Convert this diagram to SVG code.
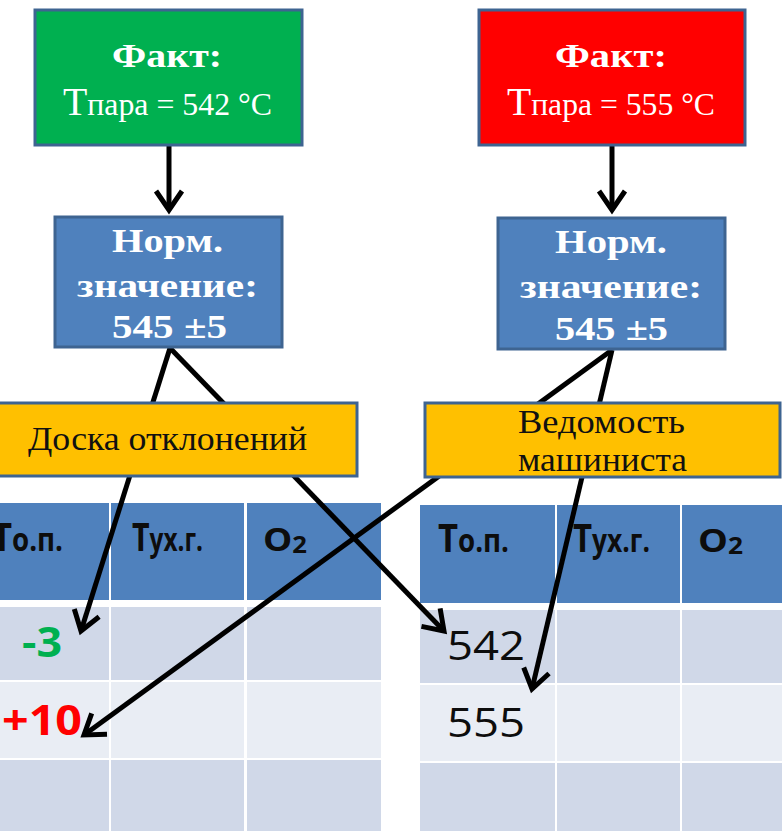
<svg xmlns="http://www.w3.org/2000/svg" width="782" height="831" viewBox="0 0 782 831">
  <style>
    .box { stroke: #3E6491; stroke-width: 3; }
    .serif { font-family: "Liberation Serif", "Times New Roman", serif; }
    .wb { fill: #ffffff; font-weight: bold; font-size: 34px; }
    .wr { fill: #ffffff; }
    .yt { fill: #111111; font-size: 33px; }
    .hdr { fill: #4F81BD; }
    .r1 { fill: #D0D8E8; }
    .r2 { fill: #E9EDF4; }
    .sans { font-family: "Open Sans", "Liberation Sans", Arial, sans-serif; }
    .ht { fill: #0d0d0d; font-weight: bold; }
    .conn { stroke: #000000; stroke-width: 5; fill: none; }
  </style>
  <defs>
    <marker id="arr" markerUnits="userSpaceOnUse" markerWidth="40" markerHeight="40" refX="0" refY="0" orient="auto" overflow="visible">
      <path d="M-19,-13 L0,0 L-19,13" fill="none" stroke="#000000" stroke-width="5" stroke-linejoin="miter"/>
    </marker>
  </defs>
  <rect width="782" height="831" fill="#ffffff"/>

  <!-- Left table -->
  <g id="table-left">
    <rect x="-26" y="503" width="135" height="97" class="hdr"/>
    <rect x="111" y="503" width="133" height="97" class="hdr"/>
    <rect x="247" y="503" width="134" height="97" class="hdr"/>
    <rect x="-26" y="607" width="135" height="73" class="r1"/>
    <rect x="111" y="607" width="133" height="73" class="r1"/>
    <rect x="247" y="607" width="134" height="73" class="r1"/>
    <rect x="-26" y="682" width="135" height="76" class="r2"/>
    <rect x="111" y="682" width="133" height="76" class="r2"/>
    <rect x="247" y="682" width="134" height="76" class="r2"/>
    <rect x="-26" y="760" width="135" height="75" class="r1"/>
    <rect x="111" y="760" width="133" height="75" class="r1"/>
    <rect x="247" y="760" width="134" height="75" class="r1"/>
    <text class="sans ht" x="-8" y="551" textLength="71" lengthAdjust="spacingAndGlyphs"><tspan font-size="40">Т</tspan><tspan font-size="32">о.п.</tspan></text>
    <text class="sans ht" x="132" y="551" textLength="71" lengthAdjust="spacingAndGlyphs"><tspan font-size="40">Т</tspan><tspan font-size="32">ух.г.</tspan></text>
    <text class="sans ht" x="263" y="551" textLength="44" lengthAdjust="spacingAndGlyphs"><tspan font-size="33">O</tspan><tspan font-size="23" dy="2">2</tspan></text>
    <text class="sans" x="42" y="657" text-anchor="middle" font-size="42" font-weight="bold" fill="#00B050" textLength="40" lengthAdjust="spacingAndGlyphs">-3</text>
    <text class="sans" x="42" y="735" text-anchor="middle" font-size="42" font-weight="bold" fill="#FF0000" textLength="80" lengthAdjust="spacingAndGlyphs">+10</text>
  </g>

  <!-- Right table -->
  <g id="table-right">
    <rect x="420" y="505" width="135" height="98" class="hdr"/>
    <rect x="557" y="505" width="123" height="98" class="hdr"/>
    <rect x="682" y="505" width="102" height="98" class="hdr"/>
    <rect x="420" y="610" width="135" height="73" class="r1"/>
    <rect x="557" y="610" width="123" height="73" class="r1"/>
    <rect x="682" y="610" width="102" height="73" class="r1"/>
    <rect x="420" y="685" width="135" height="76" class="r2"/>
    <rect x="557" y="685" width="123" height="76" class="r2"/>
    <rect x="682" y="685" width="102" height="76" class="r2"/>
    <rect x="420" y="763" width="135" height="72" class="r1"/>
    <rect x="557" y="763" width="123" height="72" class="r1"/>
    <rect x="682" y="763" width="102" height="72" class="r1"/>
    <text class="sans ht" x="438" y="552" textLength="71" lengthAdjust="spacingAndGlyphs"><tspan font-size="40">Т</tspan><tspan font-size="32">о.п.</tspan></text>
    <text class="sans ht" x="573" y="552" textLength="77" lengthAdjust="spacingAndGlyphs"><tspan font-size="40">Т</tspan><tspan font-size="32">ух.г.</tspan></text>
    <text class="sans ht" x="698" y="552" textLength="45" lengthAdjust="spacingAndGlyphs"><tspan font-size="33">O</tspan><tspan font-size="23" dy="2">2</tspan></text>
    <text class="sans" x="486" y="660" text-anchor="middle" font-size="40" fill="#0d0d0d" textLength="78" lengthAdjust="spacingAndGlyphs">542</text>
    <text class="sans" x="486" y="737" text-anchor="middle" font-size="40" fill="#0d0d0d" textLength="78" lengthAdjust="spacingAndGlyphs">555</text>
  </g>

  <!-- Connectors -->
  <g id="connectors">
    <line class="conn" x1="169" y1="145" x2="169" y2="210" marker-end="url(#arr)"/>
    <line class="conn" x1="612" y1="145" x2="612" y2="210" marker-end="url(#arr)"/>
    <line class="conn" x1="170" y1="348" x2="81" y2="631" marker-end="url(#arr)"/>
    <line class="conn" x1="170" y1="348" x2="444" y2="631" marker-end="url(#arr)"/>
    <line class="conn" x1="612" y1="350" x2="84" y2="735" marker-end="url(#arr)"/>
    <line class="conn" x1="612" y1="350" x2="532" y2="689" marker-end="url(#arr)"/>
  </g>

  <!-- Fact boxes -->
  <g id="fact-green">
    <rect x="35" y="10" width="267" height="135" fill="#00B050" class="box"/>
    <text class="serif wb" x="112" y="67" textLength="110" lengthAdjust="spacingAndGlyphs">Факт:</text>
    <text class="serif wr" x="63" y="115" textLength="209" lengthAdjust="spacingAndGlyphs"><tspan font-size="40">Т</tspan><tspan font-size="32">пара = 542 °С</tspan></text>
  </g>
  <g id="fact-red">
    <rect x="479" y="10" width="266" height="135" fill="#FF0000" class="box"/>
    <text class="serif wb" x="555" y="67" textLength="112" lengthAdjust="spacingAndGlyphs">Факт:</text>
    <text class="serif wr" x="507" y="115" textLength="208" lengthAdjust="spacingAndGlyphs"><tspan font-size="40">Т</tspan><tspan font-size="32">пара = 555 °С</tspan></text>
  </g>

  <!-- Norm boxes -->
  <g id="norm-left">
    <rect x="55" y="217" width="227" height="130" fill="#4F81BD" class="box"/>
    <text class="serif wb" x="112" y="252" textLength="111" lengthAdjust="spacingAndGlyphs">Норм.</text>
    <text class="serif wb" x="77" y="297" textLength="181" lengthAdjust="spacingAndGlyphs">значение:</text>
    <text class="serif wb" x="112" y="338" textLength="115" lengthAdjust="spacingAndGlyphs">545 ±5</text>
  </g>
  <g id="norm-right">
    <rect x="498" y="218" width="227" height="131" fill="#4F81BD" class="box"/>
    <text class="serif wb" x="555" y="253" textLength="112" lengthAdjust="spacingAndGlyphs">Норм.</text>
    <text class="serif wb" x="520" y="298" textLength="182" lengthAdjust="spacingAndGlyphs">значение:</text>
    <text class="serif wb" x="555" y="340" textLength="113" lengthAdjust="spacingAndGlyphs">545 ±5</text>
  </g>

  <!-- Yellow boxes -->
  <g id="board">
    <rect x="-3" y="403" width="360" height="73" fill="#FFC000" class="box"/>
    <text class="serif yt" x="28" y="450" textLength="279" lengthAdjust="spacingAndGlyphs">Доска отклонений</text>
  </g>
  <g id="logbook">
    <rect x="425" y="403" width="355" height="74" fill="#FFC000" class="box"/>
    <text class="serif yt" x="518" y="433" textLength="167" lengthAdjust="spacingAndGlyphs">Ведомость</text>
    <text class="serif yt" x="518" y="471" textLength="169" lengthAdjust="spacingAndGlyphs">машиниста</text>
  </g>
</svg>
